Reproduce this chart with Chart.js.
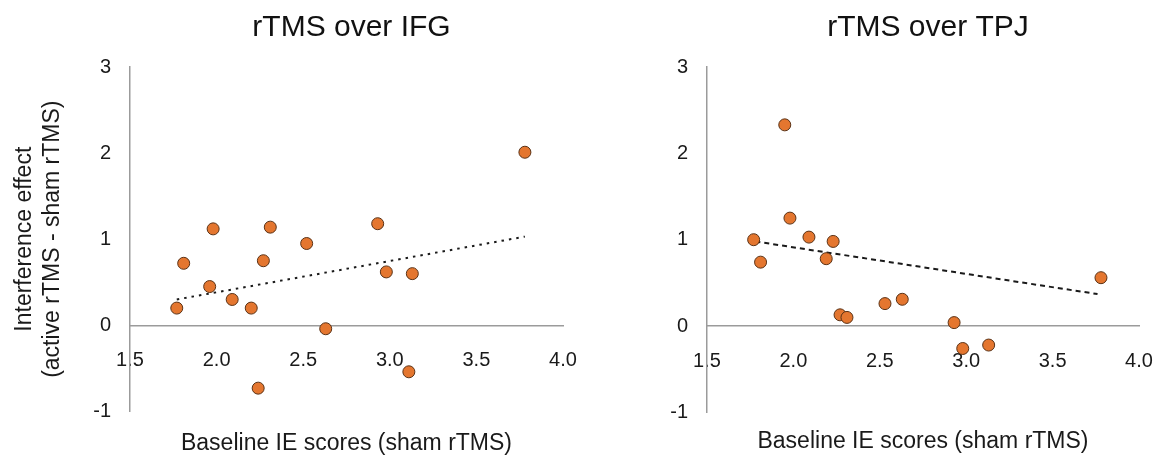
<!DOCTYPE html>
<html>
<head>
<meta charset="utf-8">
<script src="https://cdn.jsdelivr.net/npm/chart.js@4.4.0/dist/chart.umd.min.js"></script>
<style>
  body { margin: 0; background: #fff; }
  #wrap { position: relative; width: 1165px; height: 462px; }
  .panel { position: absolute; top: 0; height: 462px; }
  #leftPanel { left: 0; width: 582px; }
  #rightPanel { left: 582px; width: 583px; }
</style>
</head>
<body>
<div id="wrap">
  <div class="panel" id="leftPanel"><canvas id="ifgChart"></canvas></div>
  <div class="panel" id="rightPanel"><canvas id="tpjChart"></canvas></div>
</div>
<script>
// baseline IE scores (sham rTMS) and interference effect
const baselineIFG = [1.77, 1.81, 1.98, 1.96, 2.09, 2.20, 2.27, 2.31, 2.24, 2.52, 2.63, 2.93, 2.98, 3.13, 3.11, 3.78];
const effectIFG   = [0.20, 0.72, 1.12, 0.45, 0.30, 0.20, 0.75, 1.14, -0.73, 0.95, -0.04, 1.18, 0.62, 0.60, -0.54, 2.01];
const trendIFGx = [1.77, 3.78];
const trendIFGy = [0.30, 1.03];

const baselineTPJ = [1.77, 1.81, 1.95, 1.98, 2.09, 2.23, 2.19, 2.27, 2.31, 2.53, 2.63, 2.93, 2.98, 3.13, 3.78];
const effectTPJ   = [1.00, 0.74, 2.33, 1.25, 1.03, 0.98, 0.78, 0.13, 0.10, 0.26, 0.31, 0.04, -0.26, -0.22, 0.56];
const trendTPJx = [1.78, 3.76];
const trendTPJy = [0.98, 0.37];

const xTicks = [1.5, 2.0, 2.5, 3.0, 3.5, 4.0];
const yTicks = [-1, 0, 1, 2, 3];

const xTitle = 'Baseline IE scores (sham rTMS)';
const yTitle = ['Interference effect', '(active rTMS - sham rTMS)'];

Chart.defaults.font.family = "'Liberation Sans', Arial, sans-serif";
Chart.defaults.color = '#1a1a1a';

const toPoints = (xs, ys) => xs.map((x, i) => ({ x: x, y: ys[i] }));

// nudge the panel title a few px right, like in the figure
const titleNudge = {
  id: 'titleNudge',
  afterLayout(chart) {
    const t = chart.titleBlock;
    if (t) {
      t.left += 5;
      t.right += 5;
    }
  }
};

const makeChart = (canvasId, cfg) => {
  const ctx = document.getElementById(canvasId).getContext('2d');
  new Chart(ctx, {
    type: 'scatter',
    data: {
      datasets: [{
        data: toPoints(cfg.xs, cfg.ys),
        backgroundColor: '#e4762f',
        borderColor: '#5a3216',
        borderWidth: 1,
        pointRadius: 6,
        pointHoverRadius: 6
      }, {
        type: 'line',
        data: toPoints(cfg.trendX, cfg.trendY),
        borderColor: '#1a1a1a',
        borderWidth: 2,
        borderDash: cfg.dash,
        pointRadius: 0,
        fill: false
      }]
    },
    options: {
      responsive: true,
      maintainAspectRatio: false,
      animation: false,
      events: [],
      layout: {
        padding: { top: 0, bottom: 0, left: 0, right: cfg.padRight }
      },
      scales: {
        x: {
          type: 'linear',
          min: 1.5,
          max: 4.0,
          position: { y: 0 },
          afterBuildTicks: (scale) => { scale.ticks = xTicks.map(v => ({ value: v })); },
          afterFit: (scale) => { scale.paddingLeft = 0; scale.paddingRight = 0; },
          ticks: {
            autoSkip: false,
            maxRotation: 0,
            padding: 23,
            font: { size: 20 },
            callback: (v) => Number(v).toFixed(1)
          },
          grid: { display: false, drawTicks: false },
          border: { display: true, color: '#9b9b9b', width: 1.5 }
        },
        y: {
          type: 'linear',
          min: -1,
          max: 3,
          afterBuildTicks: (scale) => { scale.ticks = yTicks.map(v => ({ value: v })); },
          afterFit: (scale) => { scale.width = cfg.axisWidth; },
          ticks: {
            padding: 19,
            font: { size: 20 }
          },
          title: {
            display: cfg.showYTitle,
            text: yTitle,
            font: { size: 23 },
            padding: { top: 11, bottom: 0 }
          },
          grid: { display: false, drawTicks: false },
          border: { display: true, color: '#9b9b9b', width: 1.5 }
        }
      },
      plugins: {
        legend: { display: false },
        tooltip: { enabled: false },
        title: {
          display: true,
          text: cfg.title,
          fullSize: false,
          font: { size: 30, weight: 'normal' },
          color: '#111',
          padding: { top: 10, bottom: 21 }
        },
        subtitle: {
          display: true,
          position: 'bottom',
          text: xTitle,
          fullSize: false,
          font: { size: 23 },
          padding: { top: cfg.subTop, bottom: cfg.subBottom }
        }
      }
    },
    plugins: [titleNudge]
  });
};

document.addEventListener('DOMContentLoaded', () => {
  makeChart('ifgChart', {
    title: 'rTMS over IFG',
    xs: baselineIFG, ys: effectIFG,
    trendX: trendIFGx, trendY: trendIFGy,
    dash: [2.5, 5],
    showYTitle: true,
    axisWidth: 130,
    padRight: 19,
    subTop: 18, subBottom: 5
  });
  makeChart('tpjChart', {
    title: 'rTMS over TPJ',
    xs: baselineTPJ, ys: effectTPJ,
    trendX: trendTPJx, trendY: trendTPJy,
    dash: [5, 4],
    showYTitle: false,
    axisWidth: 125,
    padRight: 26,
    subTop: 15, subBottom: 7
  });
});
</script>
</body>
</html>
